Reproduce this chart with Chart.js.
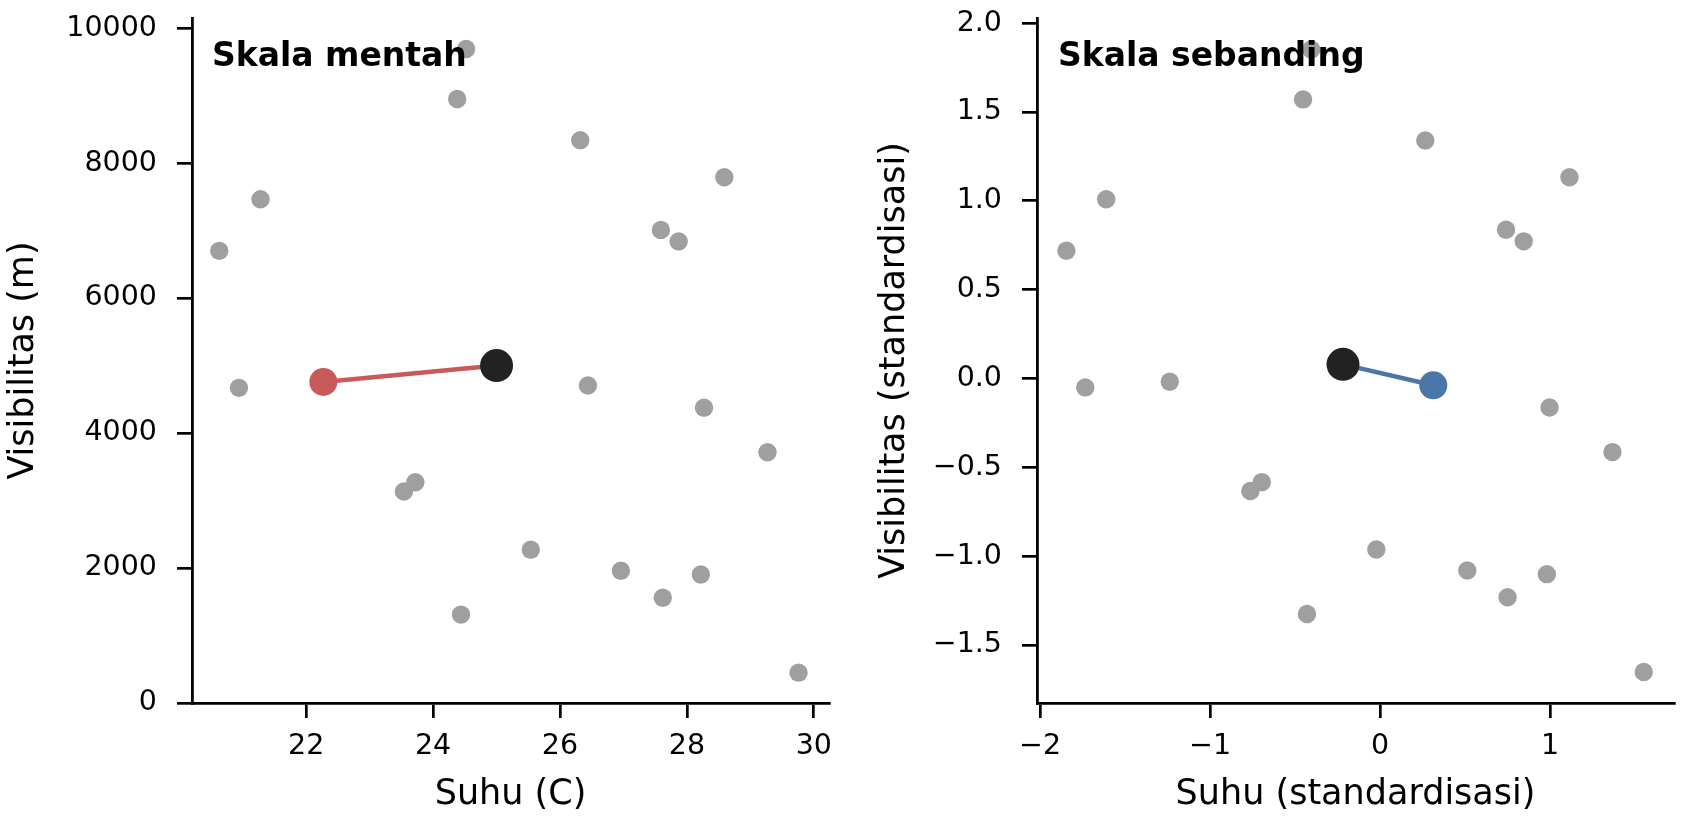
<!DOCTYPE html>
<html>
<head>
<meta charset="utf-8">
<script src="https://cdn.jsdelivr.net/npm/chart.js@4.4.1/dist/chart.umd.min.js"></script>
<style>
  html, body { margin: 0; padding: 0; background: #fff; }
  #wrap { position: relative; width: 1683px; height: 825px; }
  canvas { position: absolute; top: 0; }
  #kiri { left: 0; }
  #kanan { left: 840px; }
</style>
</head>
<body>
<div id="wrap">
  <canvas id="kiri" width="840" height="825"></canvas>
  <canvas id="kanan" width="843" height="825"></canvas>
</div>
<script>
// skala mentah
var suhuMentah = [24.52, 24.38, 26.32, 28.59, 21.28, 20.63, 27.59, 27.87, 20.94, 26.44,
                  28.27, 29.27, 23.54, 23.72, 25.54, 26.96, 28.22, 27.62, 24.44, 29.76];
var visMentah = [9690, 8950, 8340, 7790, 7465, 6700, 7010, 6840, 4670, 4705,
                 4375, 3715, 3135, 3270, 2270, 1960, 1905, 1560, 1310, 450];
var titikBaruMentah = [25.0, 5000];
var tetanggaMentah = [22.27, 4758];

// skala sebanding (standardisasi)
var suhuStd = [-0.405, -0.453, 0.266, 1.114, -1.611, -1.845, 0.741, 0.845, -1.734, -1.237,
               0.997, 1.367, -0.763, -0.696, -0.022, 0.513, 0.981, 0.750, -0.430, 1.551];
var visStd = [1.852, 1.571, 1.340, 1.133, 1.009, 0.719, 0.837, 0.772, -0.050, -0.018,
              -0.163, -0.414, -0.633, -0.583, -0.962, -1.080, -1.101, -1.231, -1.325, -1.651];
var titikBaruStd = [-0.218, 0.080];
var tetanggaStd = [0.313, -0.038];

// tick
var tickSuhuMentah = [22, 24, 26, 28, 30];
var tickVisMentah = [0, 2000, 4000, 6000, 8000, 10000];
var tickSuhuStd = [-2, -1, 0, 1];
var tickVisStd = [-1.5, -1.0, -0.5, 0.0, 0.5, 1.0, 1.5, 2.0];

Chart.defaults.font.family = "'DejaVu Sans'";
Chart.defaults.color = '#000';

var judulPanel = {
  id: 'judulPanel',
  afterDatasetsDraw: function(chart, args, opt) {
    var ctx = chart.ctx;
    ctx.save();
    ctx.font = "bold 33px 'DejaVu Sans'";
    ctx.fillStyle = '#000';
    ctx.textBaseline = 'alphabetic';
    ctx.textAlign = 'left';
    ctx.fillText(opt.teks, chart.chartArea.left + opt.dx, 66);
    ctx.restore();
  }
};

function minus(s) {
  return String(s).replace('-', '\u2212');
}

function skala(pos, min, max, ticks, judul, fmt, ukuran, padJudul) {
  return {
    type: 'linear',
    position: pos,
    min: min,
    max: max,
    afterBuildTicks: function(s) {
      s.ticks = ticks.map(function(v) { return {value: v}; });
    },
    afterFit: function(s) {
      if (pos === 'left') s.width = ukuran; else s.height = ukuran;
      // jangan tambah ruang untuk label tick di ujung sumbu
      s.paddingTop = 0; s.paddingBottom = 0;
      s.paddingLeft = 0; s.paddingRight = 0;
    },
    grid: {display: true, drawOnChartArea: false, drawTicks: true, tickLength: 15,
           lineWidth: 2.7, tickWidth: 2.7, color: '#000'},
    border: {display: true, color: '#000', width: 2.8},
    ticks: {font: {size: 28.5}, color: '#000', padding: pos === 'left' ? 20 : 11,
            maxRotation: 0, autoSkip: false, callback: fmt},
    title: {display: true, text: judul, color: '#000', font: {size: 35},
            padding: pos === 'left' ? {top: padJudul, bottom: 0} : {top: 0, bottom: padJudul}}
  };
}

function titik(xs, ys) {
  var hasil = [];
  for (var i = 0; i < xs.length; i++) hasil.push({x: xs[i], y: ys[i]});
  return hasil;
}

function buatGrafik(id, o) {
  return new Chart(document.getElementById(id), {
    type: 'scatter',
    data: {
      datasets: [
        {data: [{x: o.baru[0], y: o.baru[1]}], pointRadius: 16.5, backgroundColor: '#222222',
         pointBorderWidth: 0},
        {data: [{x: o.tetangga[0], y: o.tetangga[1]}], pointRadius: 14, backgroundColor: o.warna,
         pointBorderWidth: 0},
        {data: [{x: o.tetangga[0], y: o.tetangga[1]}, {x: o.baru[0], y: o.baru[1]}],
         showLine: true, borderColor: o.warna, borderWidth: 4.5, pointRadius: 0},
        {data: titik(o.xs, o.ys), pointRadius: 9.2, backgroundColor: '#9f9f9f', pointBorderWidth: 0}
      ]
    },
    options: {
      responsive: false,
      devicePixelRatio: 1,
      animation: false,
      events: [],
      layout: {autoPadding: false, padding: {top: 18, right: o.padKanan, left: 0, bottom: 0}},
      plugins: {
        legend: {display: false},
        tooltip: {enabled: false},
        judulPanel: {teks: o.judul, dx: o.dx}
      },
      scales: {
        x: skala('bottom', o.xMin, o.xMax, o.xTick, o.xJudul, o.xFmt, 122, 9),
        y: skala('left', o.yMin, o.yMax, o.yTick, o.yJudul, o.yFmt, o.yLebar, o.yPad)
      }
    },
    plugins: [judulPanel]
  });
}

buatGrafik('kiri', {
  xs: suhuMentah, ys: visMentah, baru: titikBaruMentah, tetangga: tetanggaMentah,
  warna: '#c85a5a', judul: 'Skala mentah', dx: 20, padKanan: 11,
  xMin: 20.2, xMax: 30.24, xTick: tickSuhuMentah, xJudul: 'Suhu (C)',
  xFmt: function(v) { return String(v); },
  yMin: 0, yMax: 10150, yTick: tickVisMentah, yJudul: 'Visibilitas (m)',
  yFmt: function(v) { return String(v); },
  yLebar: 192, yPad: 3
});

buatGrafik('kanan', {
  xs: suhuStd, ys: visStd, baru: titikBaruStd, tetangga: tetanggaStd,
  warna: '#4a77a8', judul: 'Skala sebanding', dx: 21, padKanan: 9,
  xMin: -2.018, xMax: 1.729, xTick: tickSuhuStd, xJudul: 'Suhu (standardisasi)',
  xFmt: function(v) { return minus(v); },
  yMin: -1.826, yMax: 2.029, yTick: tickVisStd, yJudul: 'Visibilitas (standardisasi)',
  yFmt: function(v) { return minus(v.toFixed(1)); },
  yLebar: 197, yPad: 34
});
</script>
</body>
</html>
